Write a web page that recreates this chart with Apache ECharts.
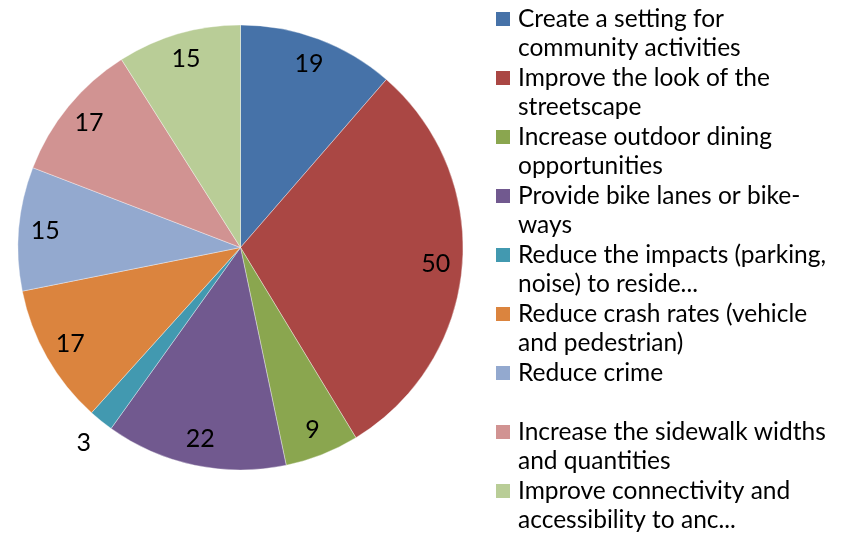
<!DOCTYPE html>
<html>
<head>
<meta charset="utf-8">
<script src="https://cdn.jsdelivr.net/npm/echarts@6/dist/echarts.min.js"></script>
<style>
  html, body { margin: 0; padding: 0; background: #fff; }
  #chart { width: 850px; height: 535px; }
</style>
</head>
<body>
<div id="chart"></div>
<script>
// legend text as shown, wrapped where the picture wraps it
const categories = [
  "Create a setting for\ncommunity activities",
  "Improve the look of the\nstreetscape",
  "Increase outdoor dining\nopportunities",
  "Provide bike lanes or bike-\nways",
  "Reduce the impacts (parking,\nnoise) to reside...",
  "Reduce crash rates (vehicle\nand pedestrian)",
  "Reduce crime",
  "Increase the sidewalk widths\nand quantities",
  "Improve connectivity and\naccessibility to anc..."
];
const counts = [19, 50, 9, 22, 3, 17, 15, 17, 15];
const colors = ["#4672a8", "#aa4744", "#8aa64f", "#71598f", "#4299b0", "#db843e", "#93a9cf", "#d19392", "#b9cd97"];

const fontFamily = "Lato, 'Open Sans', sans-serif";
const center = [240.5, 247.5];
const total = counts.reduce((a, b) => a + b, 0);

const pieData = categories.map((name, i) => ({ name, value: counts[i] }));

function labelRing(radius, showIf) {
  return {
    type: "pie",
    center,
    radius,
    startAngle: 90,
    clockwise: true,
    silent: true,
    legendHoverLink: false,
    itemStyle: { color: "transparent", borderWidth: 0 },
    labelLine: { show: false },
    data: pieData.map(d => ({
      name: d.name,
      value: d.value,
      label: {
        show: showIf(d.value / total),
        position: "inside",
        formatter: "{c}",
        fontFamily,
        fontSize: 25,
        color: "#000"
      }
    }))
  };
}

const chart = echarts.init(document.getElementById("chart"), null, { renderer: "canvas" });

chart.setOption({
  animation: false,
  backgroundColor: "#ffffff",
  color: colors,
  legend: {
    orient: "vertical",
    left: 496,
    top: 4,
    height: 600,
    padding: 0,
    data: categories,
    icon: "path://M0,0M17,59M0,8h14v14h-14z",
    itemWidth: 17,
    itemHeight: 59,
    itemGap: 0,
    selectedMode: false,
    itemStyle: { borderWidth: 0 },
    formatter: name => (name.indexOf("\n") >= 0 ? name : name + "\n "),
    textStyle: {
      fontFamily,
      fontSize: 24.5,
      lineHeight: 29.5,
      color: "#000"
    }
  },
  series: [
    {
      // the pie itself
      type: "pie",
      center,
      radius: [0, 222.5],
      startAngle: 90,
      clockwise: true,
      silent: true,
      label: { show: false },
      labelLine: { show: false },
      itemStyle: { borderColor: "rgba(255,255,255,0.6)", borderWidth: 0.6 },
      data: pieData
    },
    // inside value labels sit near the rim
    labelRing([166, 220], share => share >= 0.03),
    // tiny slices get their label just outside the pie
    labelRing([222.5, 272], share => share < 0.03)
  ]
});
</script>
</body>
</html>
